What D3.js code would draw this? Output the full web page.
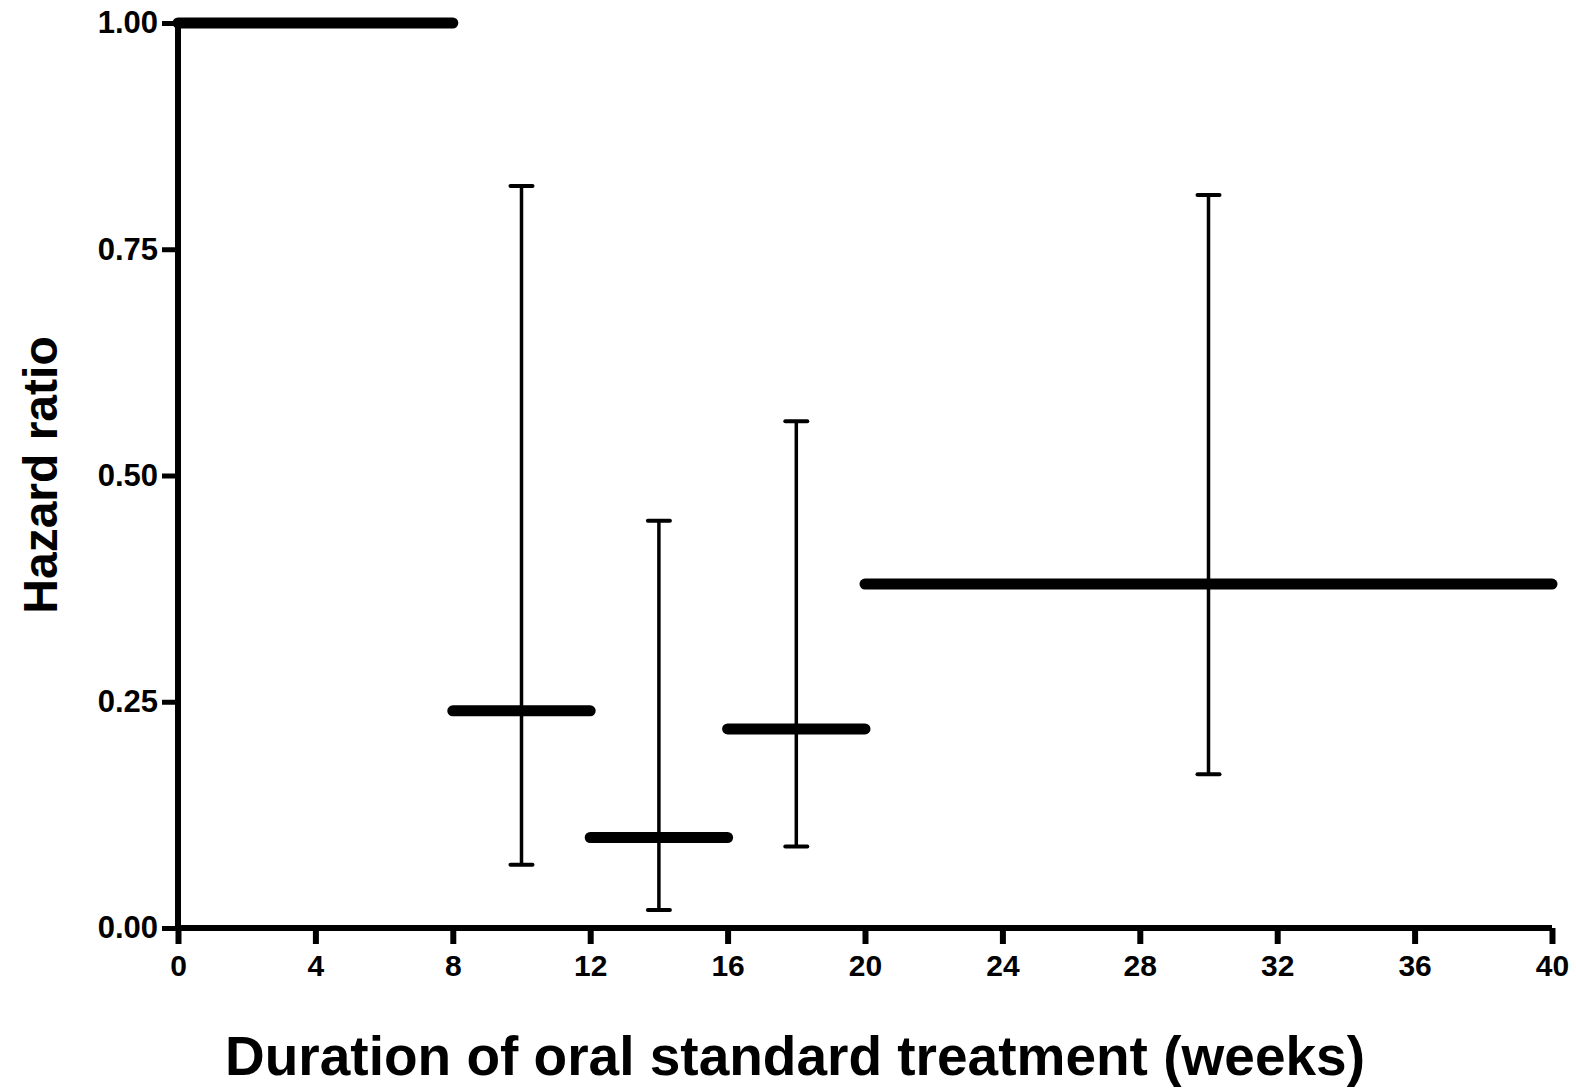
<!DOCTYPE html>
<html>
<head>
<meta charset="utf-8">
<script src="https://cdn.jsdelivr.net/npm/d3@7"></script>
<style>
  body { margin: 0; background: #fff; }
  text { font-family: "Liberation Sans", Arial, sans-serif; font-weight: bold; fill: #000; }
</style>
</head>
<body>
<script>
// hazard ratio per treatment-duration band (weeks)
const bandStart = [0, 8, 12, 16, 20];
const bandEnd   = [8, 12, 16, 20, 40];
const hazard    = [1.00, 0.24, 0.10, 0.22, 0.38];
// confidence intervals, drawn at the band mid-point
const ciAt   = [10, 14, 18, 30];
const ciLow  = [0.07, 0.02, 0.09, 0.17];
const ciHigh = [0.82, 0.45, 0.56, 0.81];

const xTicks = [0, 4, 8, 12, 16, 20, 24, 28, 32, 36, 40];
const yTicks = [0, 0.25, 0.5, 0.75, 1.0];

const W = 1576, H = 1091;
const margin = {top: 23, right: 24, bottom: 163, left: 178};

const svg = d3.select("body").append("svg")
    .attr("width", W).attr("height", H);

const x = d3.scaleLinear().domain([0, 40]).range([margin.left, W - margin.right]);
const y = d3.scaleLinear().domain([0, 1]).range([H - margin.bottom, margin.top]);

// x axis
const xAxis = svg.append("g")
    .attr("transform", "translate(0," + y(0) + ")")
    .call(d3.axisBottom(x).tickValues(xTicks).tickSize(16).tickPadding(11).tickFormat(d3.format("d")));
xAxis.attr("font-size", null).attr("font-family", null);
xAxis.select(".domain").attr("stroke", "#000").attr("stroke-width", 6).attr("d", "M" + x(0) + ",0H" + x(40));
xAxis.selectAll(".tick line").attr("stroke", "#000").attr("stroke-width", 6);
xAxis.selectAll(".tick text").style("font-size", "30px");

// y axis
const yAxis = svg.append("g")
    .attr("transform", "translate(" + x(0) + ",0)")
    .call(d3.axisLeft(y).tickValues(yTicks).tickSize(16).tickPadding(4).tickFormat(d3.format(".2f")));
yAxis.attr("font-size", null).attr("font-family", null);
yAxis.select(".domain").attr("stroke", "#000").attr("stroke-width", 6).attr("d", "M0," + y(0) + "V" + y(1));
yAxis.selectAll(".tick line").attr("stroke", "#000").attr("stroke-width", 5);
yAxis.selectAll(".tick text").style("font-size", "31px");

// error bars
const ci = d3.range(ciAt.length);
svg.selectAll(".ci").data(ci).enter().append("line")
    .attr("x1", i => x(ciAt[i])).attr("x2", i => x(ciAt[i]))
    .attr("y1", i => y(ciLow[i])).attr("y2", i => y(ciHigh[i]))
    .attr("stroke", "#000").attr("stroke-width", 3.5);
[ciLow, ciHigh].forEach(arr => {
  svg.selectAll(null).data(ci).enter().append("line")
      .attr("x1", i => x(ciAt[i]) - 11).attr("x2", i => x(ciAt[i]) + 11)
      .attr("y1", i => y(arr[i])).attr("y2", i => y(arr[i]))
      .attr("stroke", "#000").attr("stroke-width", 4).attr("stroke-linecap", "round");
});

// hazard bands
svg.selectAll(".band").data(d3.range(hazard.length)).enter().append("line")
    .attr("x1", i => x(bandStart[i])).attr("x2", i => x(bandEnd[i]))
    .attr("y1", i => y(hazard[i])).attr("y2", i => y(hazard[i]))
    .attr("stroke", "#000").attr("stroke-width", 11).attr("stroke-linecap", "round");

// titles
svg.append("text")
    .attr("x", 795).attr("y", 1075)
    .attr("text-anchor", "middle").style("font-size", "55px")
    .text("Duration of oral standard treatment (weeks)");
svg.append("text")
    .attr("transform", "translate(57,475) rotate(-90)")
    .attr("text-anchor", "middle").style("font-size", "48px")
    .text("Hazard ratio");
</script>
</body>
</html>
